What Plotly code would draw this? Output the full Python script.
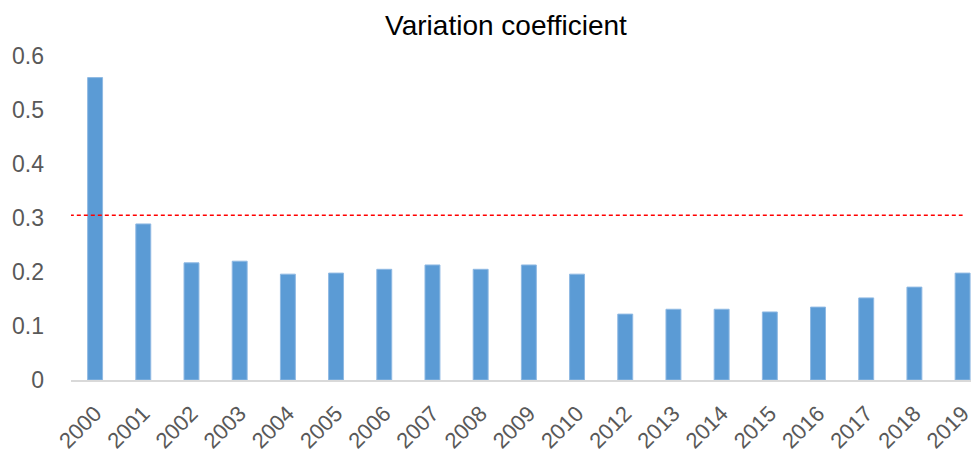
import plotly.graph_objects as go

years = ["2000", "2001", "2002", "2003", "2004", "2005", "2006", "2007", "2008", "2009",
         "2010", "2012", "2013", "2014", "2015", "2016", "2017", "2018", "2019"]
coef = [0.560, 0.289, 0.217, 0.220, 0.196, 0.198, 0.205, 0.213, 0.205, 0.213,
        0.196, 0.122, 0.131, 0.131, 0.126, 0.135, 0.152, 0.172, 0.198]
threshold = 0.305
y_ticks = [0, 0.1, 0.2, 0.3, 0.4, 0.5, 0.6]
y_tick_text = ["0", "0.1", "0.2", "0.3", "0.4", "0.5", "0.6"]

W, H = 971, 453  # page body has an 8px margin

fig = go.Figure()
fig.add_trace(go.Bar(x=years, y=coef, marker=dict(color="#5b9bd5", line=dict(color="#8fb9e3", width=1)),
                     showlegend=False))

fig.add_shape(type="line", xref="x", yref="y", x0=-0.67, x1=len(years) - 1,
              y0=threshold, y1=threshold, line=dict(color="#ff0000", width=1.4, dash="4px,3px"))

fig.update_layout(
    width=W, height=H,
    margin=dict(l=63, r=0, t=48, b=81),
    paper_bgcolor="white", plot_bgcolor="white",
    bargap=0.69,
    font=dict(family="Liberation Sans, Arial, sans-serif", color="#595959"),
    title=dict(text="Variation coefficient", x=498 / W, xref="container", xanchor="center",
               y=1 - 17 / H, yref="container", yanchor="middle",
               font=dict(size=28, color="#000000", family="Liberation Sans, Arial, sans-serif")),
)
fig.update_xaxes(type="category", range=[-0.5, 18.34], showline=True, linecolor="#d9d9d9",
                 linewidth=2, showgrid=False, ticks="", tickangle=-45, automargin=False,
                 tickfont=dict(size=22, color="#595959"), ticklabelstandoff=10)
fig.update_yaxes(range=[0, 0.6], tickvals=y_ticks, ticktext=y_tick_text, showgrid=False,
                 zeroline=False, showline=False, ticks="", automargin=False,
                 tickfont=dict(size=23, color="#595959"), ticklabelstandoff=26)

fig.write_html("out.html")
